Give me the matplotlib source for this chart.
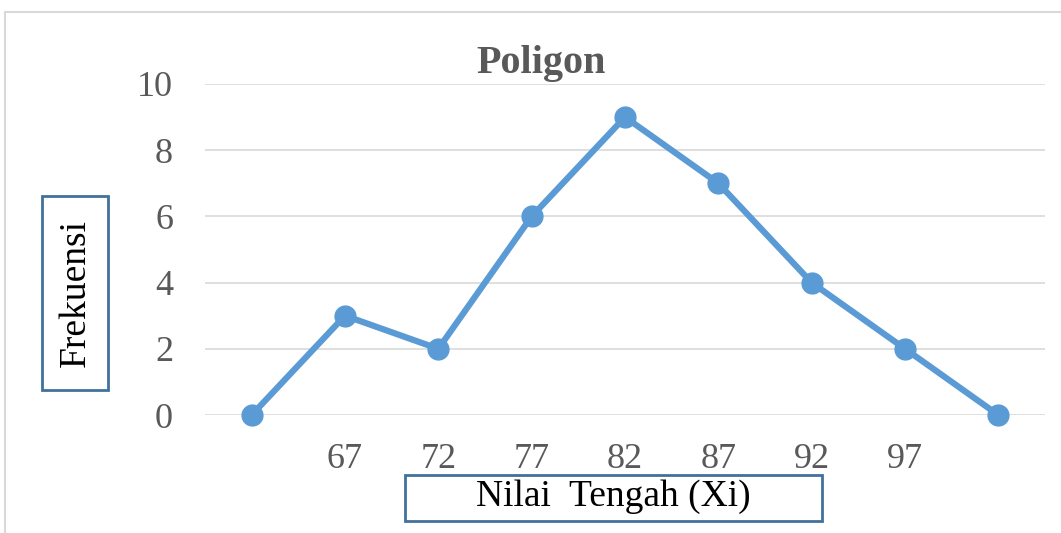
import matplotlib.pyplot as plt
from matplotlib.patches import Rectangle

# data
x_labels = ['', '67', '72', '77', '82', '87', '92', '97', '']
frekuensi = [0, 3, 2, 6, 9, 7, 4, 2, 0]
y_ticks = [0, 2, 4, 6, 8, 10]

W, H = 1061, 533
plt.rcParams['font.family'] = ['Liberation Serif', 'DejaVu Serif']

fig = plt.figure(figsize=(W / 100, H / 100), dpi=100)
fig.patch.set_facecolor('white')


def box(x0, y0, x1, y1):
    # pixel coords measured from the top-left corner
    fig.patches.append(Rectangle((x0 / W, 1 - y1 / H), (x1 - x0) / W, (y1 - y0) / H,
                                 transform=fig.transFigure, facecolor='white',
                                 edgecolor='#41719C', linewidth=2, zorder=5))


# outer chart frame
fig.patches.append(Rectangle((5 / W, -0.05), 1.2, 1 - 12 / H + 0.05,
                             transform=fig.transFigure, fill=False,
                             edgecolor='#D9D9D9', linewidth=1.5))

ax = fig.add_axes([205 / W, 1 - 415 / H, (1045 - 205) / W, (415 - 84) / H])
pos = list(range(len(frekuensi)))
ax.plot(pos, frekuensi, color='#5B9BD5', linewidth=4.5, marker='o',
        markersize=15, solid_joinstyle='round', clip_on=False, zorder=3)

ax.set_xlim(-0.5, len(frekuensi) - 0.5)
ax.set_ylim(0, 10)
ax.set_yticks(y_ticks)
ax.set_xticks(pos)
ax.set_xticklabels(x_labels)
ax.grid(axis='y', color='#D9D9D9', linewidth=1.2)
ax.set_axisbelow(True)
for s in ax.spines.values():
    s.set_visible(False)
ax.tick_params(length=0, labelsize=26, labelcolor='#595959')
ax.tick_params(axis='y', pad=23)
ax.tick_params(axis='x', pad=20)

fig.text(541 / W, 1 - 63 / H, 'Poligon', ha='center', va='center',
         fontsize=29, fontweight='bold', color='#595959')

box(42, 196, 108, 390)
fig.text(76 / W, 1 - 293 / H, 'Frekuensi', rotation=90, ha='center', va='center',
         fontsize=27, color='black', zorder=6)
box(405, 475, 822, 521)
fig.text(613 / W, 1 - 497 / H, 'Nilai  Tengah (Xi)', ha='center', va='center',
         fontsize=27, color='black', zorder=6)

fig.savefig('out.png', dpi=100)
